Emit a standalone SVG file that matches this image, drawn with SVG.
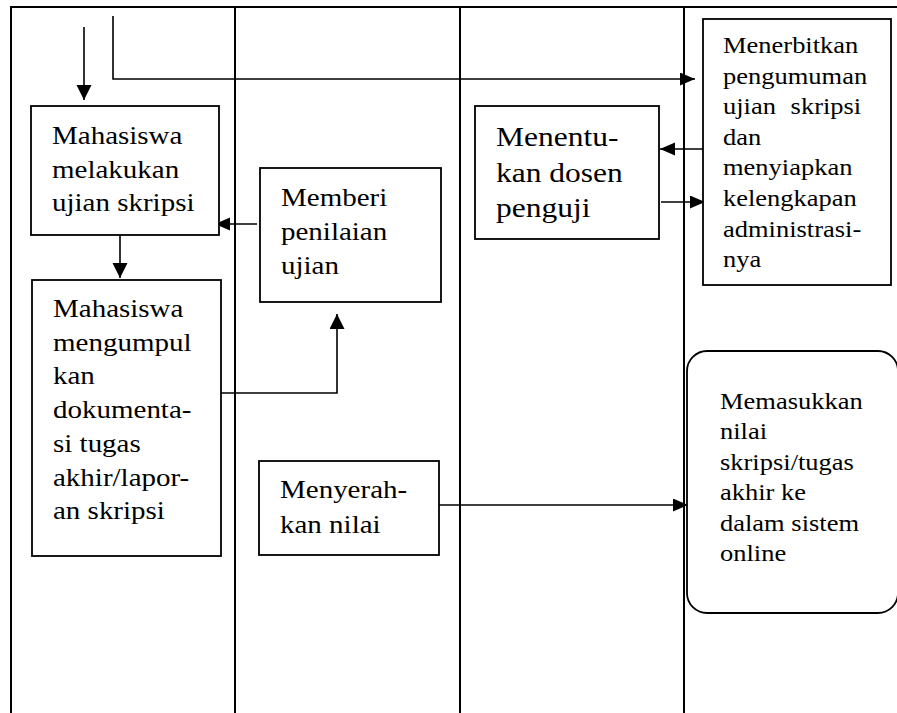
<svg xmlns="http://www.w3.org/2000/svg" width="897" height="713" viewBox="0 0 897 713">
  <style>
    .lane { fill: none; stroke: #000; stroke-width: 2; }
    .box { fill: #fff; stroke: #000; stroke-width: 1.8; }
    .edge { fill: none; stroke: #000; stroke-width: 1.6; }
    .lbl { font-family: "Liberation Serif", "Times New Roman", serif; fill: #000; }
  </style>
  <defs>
    <!-- flat arrowhead for horizontal flows, taller one for vertical flows -->
    <marker id="ah" markerUnits="userSpaceOnUse" markerWidth="16" markerHeight="16" refX="15" refY="6.5" orient="auto">
      <path d="M0,0 L15,6.5 L0,13 Z" fill="#000"/>
    </marker>
    <marker id="av" markerUnits="userSpaceOnUse" markerWidth="16" markerHeight="16" refX="15" refY="7.5" orient="auto">
      <path d="M0,0 L15,7.5 L0,15 Z" fill="#000"/>
    </marker>
  </defs>

  <!-- swimlane frame -->
  <g id="lanes">
    <path class="lane" d="M11,713 V7 H897"/>
    <path class="lane" d="M235,7 V713"/>
    <path class="lane" d="M460,7 V713"/>
    <path class="lane" d="M684,7 V713"/>
  </g>

  <!-- connectors -->
  <g id="connectors">
    <path class="edge" d="M84,27 V100" marker-end="url(#av)"/>
    <path class="edge" d="M113,16 V79 H695" marker-end="url(#ah)"/>
    <path class="edge" d="M257,224 H215" marker-end="url(#ah)"/>
    <path class="edge" d="M120,235 V278" marker-end="url(#av)"/>
    <path class="edge" d="M218,393 H337 V314" marker-end="url(#av)"/>
    <path class="edge" d="M703,149 H660" marker-end="url(#ah)"/>
    <path class="edge" d="M661,202 H705" marker-end="url(#ah)"/>
    <path class="edge" d="M439,505 H688" marker-end="url(#ah)"/>
  </g>

  <g id="ujian">
    <rect class="box" x="31" y="106" width="188" height="129"/>
    <text class="lbl" font-size="29" transform="translate(52 144) scale(1 0.86)">
      <tspan x="0" y="0">Mahasiswa</tspan>
      <tspan x="0" dy="39">melakukan</tspan>
      <tspan x="0" dy="39">ujian skripsi</tspan>
    </text>
  </g>

  <g id="dokumentasi">
    <rect class="box" x="32" y="280" width="189" height="276"/>
    <text class="lbl" font-size="29" transform="translate(53 317) scale(1 0.86)">
      <tspan x="0" y="0">Mahasiswa</tspan>
      <tspan x="0" dy="39.2">mengumpul</tspan>
      <tspan x="0" dy="39.2">kan</tspan>
      <tspan x="0" dy="39.2">dokumenta-</tspan>
      <tspan x="0" dy="39.2">si tugas</tspan>
      <tspan x="0" dy="39.2">akhir/lapor-</tspan>
      <tspan x="0" dy="39.2">an skripsi</tspan>
    </text>
  </g>

  <g id="penilaian">
    <rect class="box" x="260" y="168" width="181" height="134"/>
    <text class="lbl" font-size="29" transform="translate(281 206) scale(1 0.86)">
      <tspan x="0" y="0">Memberi</tspan>
      <tspan x="0" dy="39.5">penilaian</tspan>
      <tspan x="0" dy="39.5">ujian</tspan>
    </text>
  </g>

  <g id="serahkan">
    <rect class="box" x="259" y="461" width="180" height="94"/>
    <text class="lbl" font-size="29" transform="translate(280 498) scale(1 0.86)">
      <tspan x="0" y="0">Menyerah-</tspan>
      <tspan x="0" dy="40.7">kan nilai</tspan>
    </text>
  </g>

  <g id="penguji">
    <rect class="box" x="475" y="106" width="184" height="133"/>
    <text class="lbl" font-size="31.5" transform="translate(496 146) scale(1 0.86)">
      <tspan x="0" y="0">Menentu-</tspan>
      <tspan x="0" dy="41.3">kan dosen</tspan>
      <tspan x="0" dy="41.3">penguji</tspan>
    </text>
  </g>

  <g id="pengumuman">
    <rect class="box" x="703" y="19" width="188" height="266"/>
    <text class="lbl" font-size="26.5" transform="translate(723 53) scale(1 0.86)">
      <tspan x="0" y="0">Menerbitkan</tspan>
      <tspan x="0" dy="35.6">pengumuman</tspan>
      <tspan x="0" dy="35.6" word-spacing="8">ujian skripsi</tspan>
      <tspan x="0" dy="35.6">dan</tspan>
      <tspan x="0" dy="35.6">menyiapkan</tspan>
      <tspan x="0" dy="35.6">kelengkapan</tspan>
      <tspan x="0" dy="35.6">administrasi-</tspan>
      <tspan x="0" dy="35.6">nya</tspan>
    </text>
  </g>

  <g id="input-nilai">
    <rect class="box" x="687" y="351" width="211" height="262" rx="20" ry="20"/>
    <text class="lbl" font-size="26.5" transform="translate(720 409) scale(1 0.86)">
      <tspan x="0" y="0">Memasukkan</tspan>
      <tspan x="0" dy="35.4">nilai</tspan>
      <tspan x="0" dy="35.4">skripsi/tugas</tspan>
      <tspan x="0" dy="35.4">akhir ke</tspan>
      <tspan x="0" dy="35.4">dalam sistem</tspan>
      <tspan x="0" dy="35.4">online</tspan>
    </text>
  </g>
</svg>
